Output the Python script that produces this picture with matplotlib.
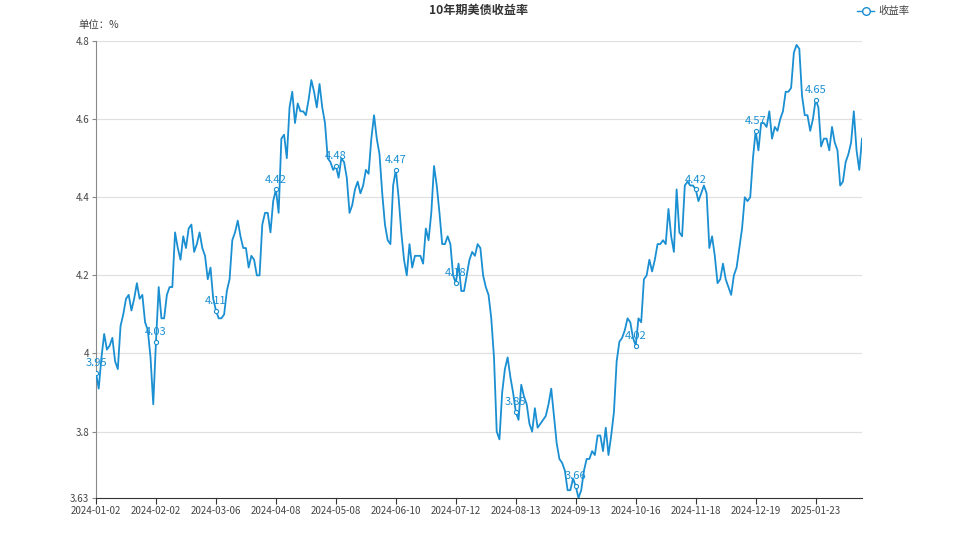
import matplotlib
matplotlib.use('Agg')
import matplotlib.pyplot as plt

plt.rcParams['font.family'] = ['Noto Sans CJK SC', 'DejaVu Sans']

# 10年期美债收益率（%），按交易日
jan_2024 = [3.95, 3.91, 3.99, 4.05, 4.01, 4.02, 4.04, 3.98, 3.96, 4.07, 4.10,
            4.14, 4.15, 4.11, 4.14, 4.18, 4.14, 4.15, 4.08, 4.06, 3.99]
feb_2024 = [3.87, 4.03, 4.17, 4.09, 4.09, 4.15, 4.17, 4.17, 4.31, 4.27, 4.24,
            4.30, 4.27, 4.32, 4.33, 4.26, 4.28, 4.31, 4.27, 4.25]
mar_2024 = [4.19, 4.22, 4.14, 4.11, 4.09, 4.09, 4.10, 4.16, 4.19, 4.29, 4.31,
            4.34, 4.30, 4.27, 4.27, 4.22, 4.25, 4.24, 4.20, 4.20]
apr_2024 = [4.33, 4.36, 4.36, 4.31, 4.39, 4.42, 4.36, 4.55, 4.56, 4.50, 4.63,
            4.67, 4.59, 4.64, 4.62, 4.62, 4.61, 4.65, 4.70, 4.67, 4.63, 4.69]
may_2024 = [4.63, 4.59, 4.50, 4.49, 4.47, 4.48, 4.45, 4.50, 4.49, 4.45, 4.36,
            4.38, 4.42, 4.44, 4.41, 4.43, 4.47, 4.46, 4.55, 4.61, 4.55, 4.51]
jun_2024 = [4.41, 4.33, 4.29, 4.28, 4.43, 4.47, 4.40, 4.31, 4.24, 4.20, 4.28,
            4.22, 4.25, 4.25, 4.25, 4.23, 4.32, 4.29, 4.36]
jul_2024 = [4.48, 4.43, 4.36, 4.28, 4.28, 4.30, 4.28, 4.20, 4.18, 4.23, 4.16,
            4.16, 4.20, 4.24, 4.26, 4.25, 4.28, 4.27, 4.20, 4.17, 4.15, 4.09]
aug_2024 = [3.99, 3.80, 3.78, 3.90, 3.96, 3.99, 3.94, 3.90, 3.85, 3.83, 3.92,
            3.89, 3.87, 3.82, 3.80, 3.86, 3.81, 3.82, 3.83, 3.84, 3.87, 3.91]
sep_2024 = [3.84, 3.77, 3.73, 3.72, 3.70, 3.65, 3.65, 3.68, 3.66, 3.63, 3.65,
            3.70, 3.73, 3.73, 3.75, 3.74, 3.79, 3.79, 3.75, 3.81]
oct_2024 = [3.74, 3.79, 3.85, 3.98, 4.03, 4.04, 4.06, 4.09, 4.08, 4.04, 4.02,
            4.09, 4.08, 4.19, 4.20, 4.24, 4.21, 4.24, 4.28, 4.28, 4.29, 4.28]
nov_2024 = [4.37, 4.30, 4.26, 4.42, 4.31, 4.30, 4.43, 4.44, 4.43, 4.43, 4.42,
            4.39, 4.41, 4.43, 4.41, 4.27, 4.30, 4.25, 4.18]
dec_2024 = [4.19, 4.23, 4.19, 4.17, 4.15, 4.20, 4.22, 4.27, 4.32, 4.40, 4.39,
            4.40, 4.50, 4.57, 4.52, 4.59, 4.59, 4.58, 4.62, 4.55, 4.58]
jan_2025 = [4.57, 4.60, 4.62, 4.67, 4.67, 4.68, 4.77, 4.79, 4.78, 4.66, 4.61,
            4.61, 4.57, 4.60, 4.65, 4.63, 4.53, 4.55, 4.55, 4.52, 4.58]
feb_2025 = [4.54, 4.52, 4.43, 4.44, 4.49, 4.51, 4.54, 4.62, 4.52, 4.47, 4.55]

yields = (jan_2024 + feb_2024 + mar_2024 + apr_2024 + may_2024 + jun_2024 +
          jul_2024 + aug_2024 + sep_2024 + oct_2024 + nov_2024 + dec_2024 +
          jan_2025 + feb_2025)

tick_labels = ['2024-01-02', '2024-02-02', '2024-03-06', '2024-04-08',
               '2024-05-08', '2024-06-10', '2024-07-12', '2024-08-13',
               '2024-09-13', '2024-10-16', '2024-11-18', '2024-12-19',
               '2025-01-23']
label_step = 22

blue = '#1a8fd2'
x = list(range(len(yields)))
tick_pos = [i * label_step for i in range(len(tick_labels))]

fig = plt.figure(figsize=(9.58, 5.39), dpi=100)
ax = fig.add_axes([96 / 958, 41 / 539, (862 - 96) / 958, (498 - 41) / 539])

ax.plot(x, yields, color=blue, linewidth=1.3, zorder=3)
# 标签点
ax.plot(tick_pos, [yields[i] for i in tick_pos], linestyle='none', marker='o',
        markersize=3, markerfacecolor='white', markeredgecolor=blue,
        markeredgewidth=0.8, zorder=4)
for i in tick_pos:
    ax.annotate(f'{yields[i]:.2f}', (i, yields[i]), xytext=(0, 3.5),
                textcoords='offset points', ha='center', va='bottom',
                fontsize=8, color=blue, zorder=5)

ax.set_xlim(0, len(yields) - 1)
ax.set_ylim(3.63, 4.8)
ax.set_xticks(tick_pos)
ax.set_xticklabels(tick_labels, fontsize=7, color='#444444')
ax.set_yticks([3.63, 3.8, 4.0, 4.2, 4.4, 4.6, 4.8])
ax.set_yticklabels(['3.63', '3.8', '4', '4.2', '4.4', '4.6', '4.8'],
                   fontsize=7, color='#444444')

for v in [3.8, 4.0, 4.2, 4.4, 4.6, 4.8]:
    ax.axhline(v, color='#e0e0e0', linewidth=0.9, zorder=1)

for side in ['top', 'right']:
    ax.spines[side].set_visible(False)
ax.spines['left'].set_color('#888888')
ax.spines['bottom'].set_color('#333333')
ax.tick_params(axis='y', length=3, color='#888888', pad=2)
ax.tick_params(axis='x', length=4, color='#333333', pad=2)

fig.text(479 / 958, 1 - 10 / 539, '10年期美债收益率', ha='center', va='center',
         fontsize=8.7, fontweight='bold', color='#333333')
fig.text(78 / 958, 1 - 25 / 539, '单位：%', ha='left', va='center',
         fontsize=7.5, color='#444444')

# 图例
fig.add_artist(plt.Line2D([857 / 958, 874 / 958], [1 - 11 / 539, 1 - 11 / 539],
                          color=blue, linewidth=1.0))
fig.add_artist(plt.Line2D([865.5 / 958], [1 - 11 / 539], marker='o',
                          markersize=5.5, markerfacecolor='white',
                          markeredgecolor=blue, markeredgewidth=1.0))
fig.text(878 / 958, 1 - 11 / 539, '收益率', ha='left', va='center',
         fontsize=7.5, color='#444444')

fig.savefig('out.png', dpi=100)
